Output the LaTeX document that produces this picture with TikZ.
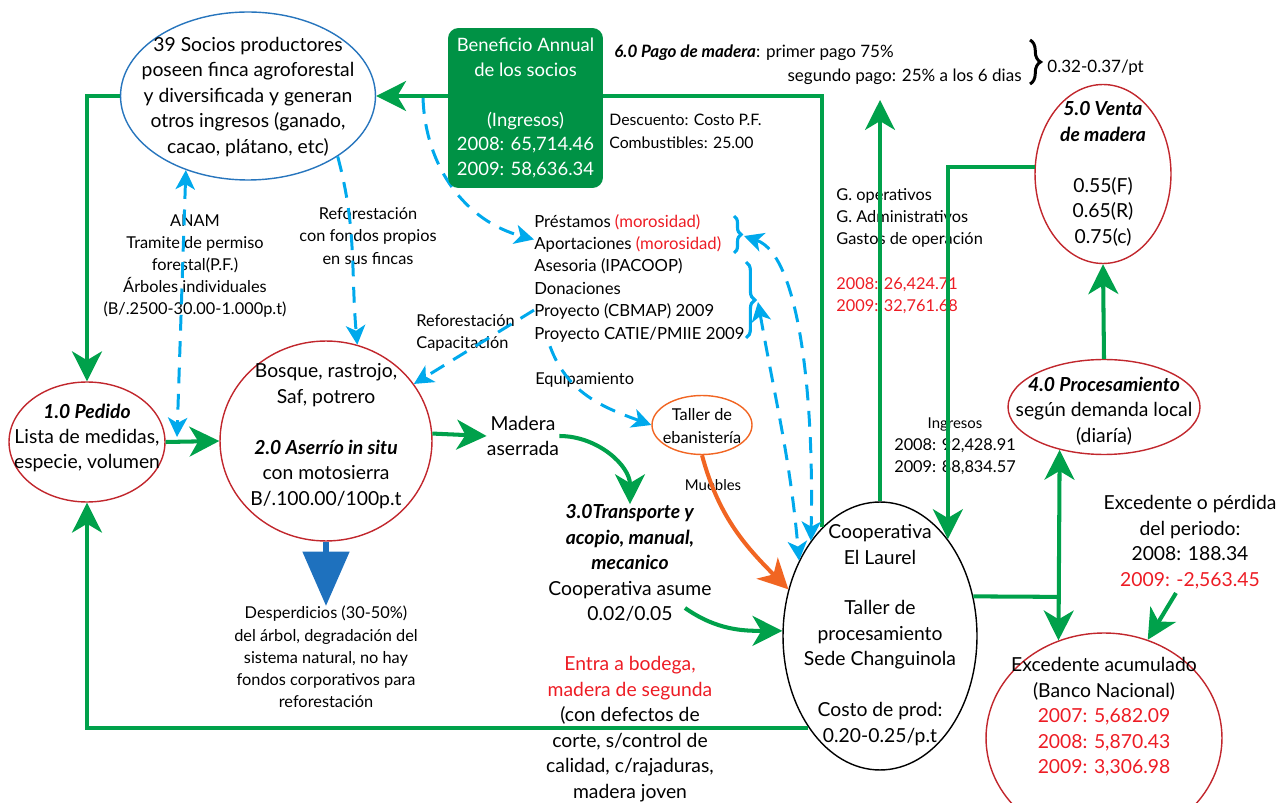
\documentclass[tikz,border=0pt]{standalone}
\usepackage{fontspec}
\setmainfont{Lato}
\usetikzlibrary{positioning, shapes.geometric, arrows.meta, calc, decorations.pathreplacing}

\begin{document}
\begin{tikzpicture}[x=0.02cm, y=0.02cm,
    process/.style={draw=procred, ellipse, line width=0.8pt, inner sep=0pt},
    bigtext/.style={align=center, inner sep=0pt, font=\fontsize{11}{14.5}\selectfont},
    smalltext/.style={align=center, inner sep=0pt, font=\fontsize{9.3}{12.6}\selectfont},
    flow/.style={draw=flowgreen, line width=2.3pt, -{Stealth[length=17pt, width=17pt, inset=5pt]}},
    flowboth/.style={flow, {Stealth[length=17pt, width=17pt, inset=5pt]}-{Stealth[length=17pt, width=17pt, inset=5pt]}},
    flowline/.style={draw=flowgreen, line width=2.3pt},
    bluelink/.style={draw=linkblue, line width=1.7pt, dash pattern=on 9pt off 6pt, -{Stealth[length=11pt, width=11pt, inset=3pt]}},
    bluelinkboth/.style={bluelink, {Stealth[length=11pt, width=11pt, inset=3pt]}-{Stealth[length=11pt, width=11pt, inset=3pt]}}
]

    % Define colors
    \definecolor{flowgreen}{RGB}{0,161,75}
    \definecolor{boxgreen}{RGB}{0,146,69}
    \definecolor{procred}{RGB}{193,39,45}
    \definecolor{textred}{RGB}{237,28,36}
    \definecolor{linkblue}{RGB}{0,169,236}
    \definecolor{sociosblue}{RGB}{39,117,189}
    \definecolor{woodorange}{RGB}{241,101,34}
    \definecolor{wasteblue}{RGB}{30,113,190}

    \useasboundingbox (0,0) rectangle (1281,-803);

    % Ellipses
    \node[process, draw=sociosblue, minimum width=5.1cm, minimum height=3.36cm] (socios) at (248,-96) {};
    \node[process, minimum width=3.12cm, minimum height=2.4cm] (pedido) at (87,-442) {};
    \node[process, minimum width=4.24cm, minimum height=4cm] (aserrio) at (326,-441) {};
    \node[process, draw=woodorange, minimum width=2cm, minimum height=1.18cm] (taller) at (702,-425) {};
    \node[process, draw=black, minimum width=3.88cm, minimum height=5.36cm] (coop) at (880,-636) {};
    \node[process, minimum width=2.72cm, minimum height=3.58cm] (venta) at (1103,-174) {};
    \node[process, minimum width=3.84cm, minimum height=1.9cm] (proc) at (1104,-407) {};
    \node[process, minimum width=4.72cm, minimum height=4.2cm] (exced) at (1104,-738) {};

    % Texts of the ellipses
    \node[bigtext] (sociostxt) at (248,-97) {39 Socios productores\\poseen finca agroforestal\\y diversificada y generan\\otros ingresos (ganado,\\cacao, plátano, etc)};
    \node[bigtext] (pedidotxt) at (87,-438) {\textbf{\textit{1.0 Pedido}}\\Lista de medidas,\\especie, volumen};
    \node[bigtext] (aserriotxt) at (326,-436) {Bosque, rastrojo,\\Saf, potrero\\[14.5pt]\textbf{\textit{2.0 Aserrío in situ}}\\con motosierra\\B/.100.00/100p.t};
    \node[smalltext] (tallertxt) at (702,-426) {Taller de\\ebanistería};
    \node[bigtext] (cooptxt) at (880,-635) {Cooperativa\\El Laurel\\[14.5pt]Taller de\\procesamiento\\Sede Changuinola\\[14.5pt]Costo de prod:\\0.20-0.25/p.t};
    \node[bigtext] (ventatxt) at (1103,-174) {\textbf{\textit{5.0 Venta}}\\\textbf{\textit{de madera}}\\[14.5pt]0.55(F)\\0.65(R)\\0.75(c)};
    \node[bigtext] (proctxt) at (1104,-411) {\textbf{\textit{4.0 Procesamiento}}\\según demanda local\\(diaría)};
    \node[bigtext] (excedtxt) at (1104,-717) {Excedente acumulado\\(Banco Nacional)\\\textcolor{textred}{2007: 5,682.09}\\\textcolor{textred}{2008: 5,870.43}\\\textcolor{textred}{2009: 3,306.98}};

    % Free texts
    \node[smalltext] (anam) at (195,-266) {ANAM\\Tramite de permiso\\forestal(P.F.)\\Árboles individuales\\(B/.2500-30.00-1.000p.t)};
    \node[smalltext] (refprop) at (368,-236) {Reforestación\\con fondos propios\\en sus fincas};
    \node[smalltext, align=left, anchor=west] (refcap) at (416,-333) {Reforestación\\Capacitación};
    \node[smalltext, align=left, anchor=west, font=\fontsize{9.5}{12.75}\selectfont] (fondos) at (534,-278) {Préstamos \textcolor{textred}{(morosidad)}\\Aportaciones \textcolor{textred}{(morosidad)}\\Asesoria (IPACOOP)\\Donaciones\\Proyecto (CBMAP) 2009\\Proyecto CATIE/PMIIE 2009};
    \node[smalltext, anchor=west] (equip) at (535,-380) {Equipamiento};
    \node[bigtext] (madera) at (523,-436) {Madera\\aserrada};
    \node[smalltext, font=\fontsize{8.5}{12}\selectfont] (muebles) at (713,-485) {Muebles};
    \node[bigtext] (transp) at (630,-563) {\textbf{\textit{3.0Transporte y}}\\\textbf{\textit{acopio, manual,}}\\\textbf{\textit{mecanico}}\\Cooperativa asume\\0.02/0.05};
    \node[bigtext] (bodega) at (630,-729) {\textcolor{textred}{Entra a bodega,}\\\textcolor{textred}{madera de segunda}\\(con defectos de\\corte, s/control de\\calidad, c/rajaduras,\\madera joven};
    \node[smalltext] (desp) at (326,-657) {Desperdicios (30-50\%)\\del árbol, degradación del\\sistema natural, no hay\\fondos corporativos para\\reforestación};
    \node[smalltext, anchor=west, font=\fontsize{9.7}{12.6}\selectfont] (pago1) at (614,-53) {\textbf{\textit{6.0 Pago de madera}}: primer pago 75\%};
    \node[smalltext, anchor=east, font=\fontsize{9.7}{12.6}\selectfont] (pago2) at (1022,-77) {segundo pago: 25\% a los 6 dias};
    \node[smalltext, anchor=west, font=\fontsize{9.7}{12.6}\selectfont] (ptval) at (1047,-68) {0.32-0.37/pt};
    \node[smalltext, align=left, anchor=west, font=\fontsize{9}{13}\selectfont] (descuento) at (609,-131) {Descuento: Costo P.F.\\Combustibles: 25.00};
    \node[smalltext, align=left, anchor=west] (gastos) at (836,-251) {G. operativos\\G. Administrativos\\Gastos de operación\\[12.6pt]\textcolor{textred}{2008: 26,424.71}\\\textcolor{textred}{2009: 32,761.68}};
    \node[smalltext] (ingresos) at (955,-446) {{\fontsize{8.5}{12.6}\selectfont Ingresos}\\2008: 92,428.91\\2009: 88,834.57};
    \node[bigtext] (perdida) at (1190,-542) {Excedente o pérdida\\del periodo:\\2008: 188.34\\\textcolor{textred}{2009: -2,563.45}};

    % Braces
    \draw[decorate, decoration={brace, amplitude=6pt}, line width=1.7pt] (1030,-40) -- (1030,-84);
    \draw[decorate, decoration={brace, amplitude=4pt}, line width=1.8pt, linkblue] (734,-216) -- (734,-253);
    \draw[decorate, decoration={brace, amplitude=5pt}, line width=1.8pt, linkblue] (746,-262) -- (746,-338);

    % Loose ends
    \coordinate (braceA) at (744,-236);
    \coordinate (braceB) at (758,-302);
    \coordinate (anamend) at (177,-437);
    \coordinate (dstart) at (423,-98);
    \coordinate (asume) at (685,-608);
    \coordinate (gastostop) at (880,-100);
    \coordinate (jn) at ($(proc.224)!(coop.23)!(exced.115)$);
    \coordinate (prestin) at ($(fondos.north west)!0.2!(fondos.south west)$);
    \coordinate (cbmapout) at ($(fondos.north west)!0.75!(fondos.south west)$);
    \coordinate (catieout) at ($(fondos.south west)+(16,-4)$);

    % Green flows
    \draw[flow] (coop.118) |- (socios.east);
    \draw[flow] (socios.west) -| (pedido.north);
    \draw[flow] (coop.232) -| (pedido.south);
    \draw[flow] (pedido.east) -- (aserrio.west);
    \draw[flow] (aserrio.4) -- (madera.west);
    \draw[flow] (madera.east) to[out=0, in=90] (transp.north);
    \draw[flow] (asume) to[out=-35, in=180] (coop.177);
    \draw[flow] (coop.north) -- (gastostop);
    \draw[flow] (venta.174) -| (coop.55);
    \draw[flowline] (coop.23) -- (jn);
    \draw[flowboth] (proc.224) -- (exced.115);
    \draw[flow] (proc.north) -- (venta.south);
    \draw[flow] ($(perdida.south)+(-14,-4)$) -- (exced.66);
    \draw[flow, draw=woodorange] (taller.south) to[out=-75, in=135] (coop.153);

    % Blue dashed links
    \draw[bluelinkboth] (socios.230) -- (anamend);
    \draw[bluelink] (socios.-34) to[out=-75, in=95] (aserrio.72);
    \draw[bluelink] (dstart) to[out=-88, in=165] (prestin);
    \draw[bluelink] (cbmapout) -- (aserrio.33);
    \draw[bluelink] (catieout) to[out=-70, in=160] (taller.west);
    \draw[bluelinkboth] (braceB) to[out=-80, in=95] (coop.137);
    \draw[bluelinkboth] (braceA) .. controls (800,-255) and (814,-400) .. (coop.126);

    % Waste arrow
    \draw[wasteblue, line width=3.6pt, -{Triangle[length=31pt, width=26pt]}] (aserrio.south) -- (desp.north);

    % Benefit box on top of the loop
    \node[fill=boxgreen, rounded corners=6pt, minimum width=3.1cm, minimum height=3.2cm, align=center, text=white, font=\fontsize{10.5}{14.2}\selectfont] (beneficio) at (525.5,-108) {Beneficio Annual\\de los socios\\[14.2pt](Ingresos)\\2008: 65,714.46\\2009: 58,636.34};

\end{tikzpicture}
\end{document}
